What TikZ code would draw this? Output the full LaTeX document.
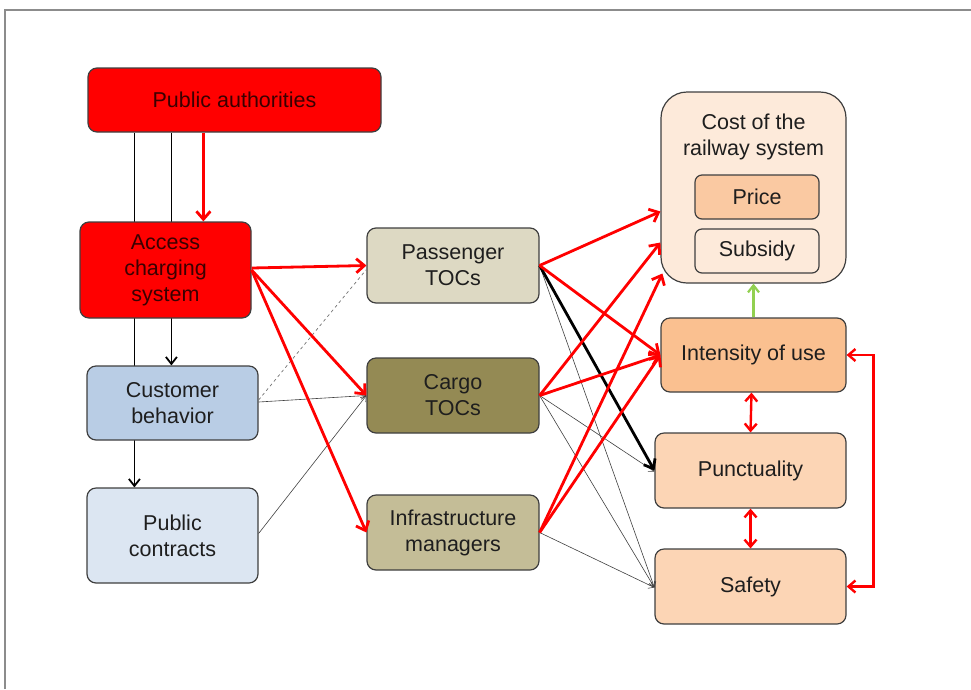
\documentclass[tikz,border=0pt]{standalone}
\usepackage{fontspec}
\setmainfont{Liberation Sans}
\usetikzlibrary{arrows.meta,backgrounds}
\definecolor{boxline}{HTML}{3F3F3F}
\definecolor{txt}{HTML}{1E1E1E}
\definecolor{redtxt}{HTML}{3A0000}
\definecolor{custfill}{HTML}{B9CDE5}
\definecolor{pcfill}{HTML}{DCE6F2}
\definecolor{passfill}{HTML}{DDD9C3}
\definecolor{cargofill}{HTML}{948A54}
\definecolor{infrafill}{HTML}{C4BD97}
\definecolor{costfill}{HTML}{FDEADA}
\definecolor{pricefill}{HTML}{FAC9A2}
\definecolor{intfill}{HTML}{FAC090}
\definecolor{puncfill}{HTML}{FCD5B5}
\definecolor{greenarr}{HTML}{92D050}
\definecolor{framegray}{HTML}{8C8C8C}
\begin{document}
\begin{tikzpicture}[x=1pt,y=-1pt,
  box/.style={draw=boxline, line width=1.2pt, rounded corners=9pt, align=center,
    font=\fontsize{21.5}{26}\selectfont, inner sep=0pt, text=txt},
  redarr/.style={draw=red, line width=2.8pt, -{Straight Barb[length=8pt,width=14pt]}},
  redbi/.style={draw=red, line width=2.4pt, {Straight Barb[length=7pt,width=12pt]}-{Straight Barb[length=7pt,width=12pt]}},
  blackarr/.style={draw=black, line width=1.8pt, -{Straight Barb[length=7pt,width=11pt]}},
  thickarr/.style={draw=black, line width=2.8pt, -{Straight Barb[length=8pt,width=13pt]}},
  thinarr/.style={draw=black!75, line width=0.6pt, -{Straight Barb[length=5pt,width=7pt]}},
  dasharr/.style={draw=black!55, dashed, line width=0.7pt},
  greenline/.style={draw=greenarr, line width=2.2pt, -{Straight Barb[length=7pt,width=11pt]}}
]
\useasboundingbox (0,0) rectangle (971,689);
\draw[framegray, line width=1.6pt] (5,689) -- (5,10) -- (971,10);

% nodes
\node[box, fill=red, text=redtxt, minimum width=293pt, minimum height=64pt] (pa) at (234.5,100) {Public authorities};
\node[box, fill=red, text=redtxt, minimum width=171pt, minimum height=96pt] (acc) at (165.5,270) {Access\\charging\\system};
\node[box, fill=custfill, minimum width=171pt, minimum height=74pt] (cust) at (172.5,403) {Customer\\behavior};
\node[box, fill=pcfill, minimum width=171pt, minimum height=95pt] (pc) at (172.5,535.5) {Public\\contracts};
\node[box, fill=passfill, minimum width=172pt, minimum height=75pt] (pass) at (453,265.5) {Passenger\\TOCs};
\node[box, fill=cargofill, minimum width=172pt, minimum height=75pt] (cargo) at (453,395.5) {Cargo\\TOCs};
\node[box, fill=infrafill, minimum width=172pt, minimum height=75pt] (infra) at (453,532.5) {Infrastructure\\managers};
\node[box, fill=costfill, rounded corners=26pt, minimum width=185pt, minimum height=191pt] (cost) at (753.5,187.5) {};
\node[align=center, font=\fontsize{21.5}{26}\selectfont, text=txt, inner sep=0pt] (costtxt) at (753.5,137) {Cost of the\\railway system};
\node[box, fill=pricefill, rounded corners=7pt, minimum width=124pt, minimum height=44pt] (price) at (757,197) {Price};
\node[box, fill=costfill, rounded corners=7pt, minimum width=124pt, minimum height=44pt] (sub) at (757,251) {Subsidy};
\node[box, fill=intfill, minimum width=185pt, minimum height=74pt] (int) at (753.5,355) {Intensity of use};
\node[box, fill=puncfill, minimum width=191pt, minimum height=75pt] (punc) at (750.5,470.5) {Punctuality};
\node[box, fill=puncfill, minimum width=191pt, minimum height=75pt] (saf) at (750.5,586.5) {Safety};

% long black lines behind boxes
\begin{pgfonlayer}{background}
\draw[blackarr] ([xshift=47pt]pa.south west) -- ([xshift=48pt]pc.north west);
\draw[blackarr] ([xshift=84pt]pa.south west) -- ([xshift=85pt]cust.north west);
\end{pgfonlayer}

% public authorities -> access
\draw[redarr] ([xshift=116pt]pa.south west) -- ([xshift=124pt]acc.north west);

% thin / dashed left connectors
\draw[dasharr] ([yshift=3pt]cust.east) -- ([yshift=-4pt]pass.west);
\draw[thinarr] ([yshift=1pt]cust.east) -- (cargo.west);
\draw[thinarr] ([yshift=2pt]pc.east) -- (cargo.west);

% access -> TOCs / IM
\draw[redarr] ([yshift=2pt]acc.east) -- (pass.west);
\draw[redarr] (acc.east) -- (cargo.west);
\draw[redarr] (acc.east) -- (infra.west);

% thin right connectors
\draw[thinarr] (pass.east) -- ([yshift=-1pt]saf.west);
\draw[thinarr] (cargo.east) -- ([yshift=-1pt]punc.west);
\draw[thinarr] (cargo.east) -- ([yshift=-1pt]saf.west);
\draw[thinarr] (infra.east) -- ([yshift=-1pt]saf.west);
\draw[thickarr] (pass.east) -- (punc.west);

% red connectors to cost and intensity
\draw[redarr] (pass.east) -- ([yshift=-24pt]cost.west);
\draw[redarr] (cargo.east) -- ([yshift=-55pt]cost.west);
\draw[redarr] (infra.east) -- ([xshift=2pt,yshift=-86pt]cost.west);
\draw[redarr] (pass.east) -- (int.west);
\draw[redarr] (cargo.east) -- (int.west);
\draw[redarr] (infra.east) -- (int.west);

% right column
\draw[greenline] (int.north) -- (cost.south);
\draw[redbi] ([xshift=-2pt]int.south) -- (punc.south |- punc.north);
\draw[redbi] (punc.south) -- (saf.north);
\draw[redbi] (int.east) -- ++(27,0) |- (saf.east);
\end{tikzpicture}
\end{document}
